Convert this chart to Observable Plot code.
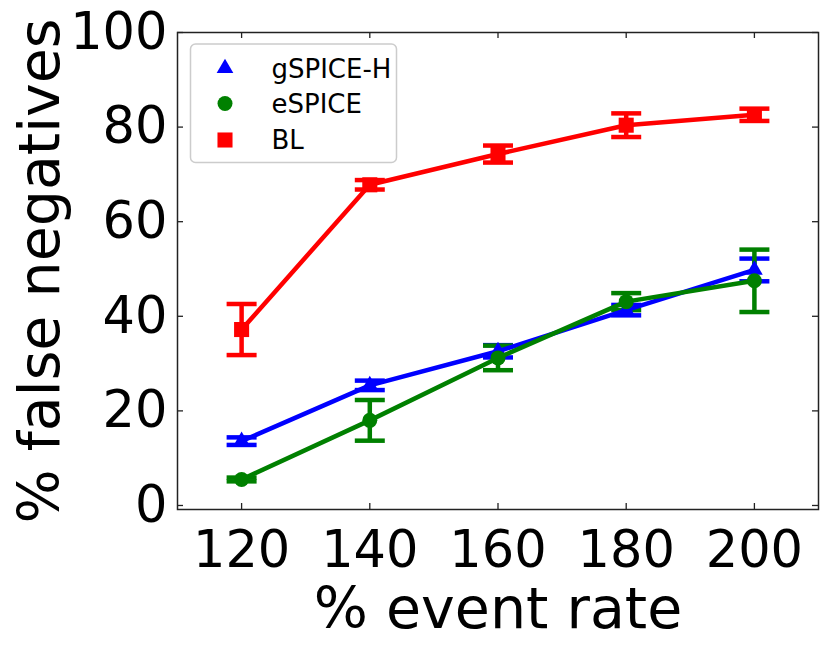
<!DOCTYPE html>
<html><head><meta charset="utf-8">
<script src="https://cdn.jsdelivr.net/npm/d3@7"></script>
<script src="https://cdn.jsdelivr.net/npm/@observablehq/plot@0.6"></script>
<style>
body{margin:0;background:#fff;font-family:"DejaVu Sans",sans-serif}
#chart{position:relative;width:831px;height:652px}
</style>
</head><body><div id="chart"></div>
<script>
// ---- data ----
const rates = [120, 140, 160, 180, 200];
const seriesNames = ["gSPICE-H", "eSPICE", "BL"];
const gspiceH = [13.6, 25.4, 32.6, 41.3, 49.8];
const gspiceHErr = [0.8, 1.0, 1.3, 1.1, 2.4];
const espice = [5.5, 18.0, 31.2, 43.1, 47.5];
const espiceErr = [0.4, 4.3, 2.6, 1.8, 6.6];
const bl = [37.2, 67.8, 74.3, 80.4, 82.6];
const blErr = [5.4, 1.0, 1.8, 2.5, 1.3];
const xTicks = [120, 140, 160, 180, 200];
const yTicks = [0, 20, 40, 60, 80, 100];
const xLabel = "% event rate";
const yLabel = "% false negatives";

// ---- styles ----
const colors = ["#0000ff", "#008000", "#ff0000"];
const symbols = ["triangle", "circle", "square"];
const symR = [6.2, 7.5, 8.5];
const lw = 4.5;

const values = [gspiceH, espice, bl];
const errs = [gspiceHErr, espiceErr, blErr];
const rows = [];
seriesNames.forEach((s, si) => rates.forEach((r, i) => rows.push({
  series: s, si, rate: r, value: values[si][i], lo: values[si][i] - errs[si][i], hi: values[si][i] + errs[si][i]
})));

const capSymbol = {draw(ctx, size) { const h = Math.sqrt(size / Math.PI); ctx.moveTo(-h, 0); ctx.lineTo(h, 0); }};

const W = 831, H = 652, mL = 177, mR = 13, mT = 32, mB = 143;
const pw = W - mL - mR, ph = H - mT - mB;
const tickCol = "#222";
const font = "DejaVu Sans";

const marks = [];
// error bars (drawn first, below data lines as in matplotlib)
seriesNames.forEach((s, si) => {
  const d = rows.filter(r => r.si === si);
  marks.push(Plot.ruleX(d, {x: "rate", y1: "lo", y2: "hi", stroke: colors[si], strokeWidth: lw}));
  marks.push(Plot.dot(d, {x: "rate", y: "lo", symbol: capSymbol, r: 15, stroke: colors[si], strokeWidth: lw, fill: "none"}));
  marks.push(Plot.dot(d, {x: "rate", y: "hi", symbol: capSymbol, r: 15, stroke: colors[si], strokeWidth: lw, fill: "none"}));
});
seriesNames.forEach((s, si) => {
  const d = rows.filter(r => r.si === si);
  marks.push(Plot.line(d, {x: "rate", y: "value", stroke: colors[si], strokeWidth: lw}));
  marks.push(Plot.dot(d, {x: "rate", y: "value", symbol: symbols[si], r: symR[si], fill: colors[si], stroke: "none"}));
});
// frame and inward ticks on all sides
marks.push(Plot.frame({stroke: tickCol, strokeWidth: 1.5}));
marks.push(Plot.tickX(xTicks, {x: d => d, insetTop: ph - 6, stroke: tickCol, strokeWidth: 1.3}));
marks.push(Plot.tickX(xTicks, {x: d => d, insetBottom: ph - 6, stroke: tickCol, strokeWidth: 1.3}));
marks.push(Plot.tickY(yTicks, {y: d => d, insetRight: pw - 6, stroke: tickCol, strokeWidth: 1.3}));
marks.push(Plot.tickY(yTicks, {y: d => d, insetLeft: pw - 6, stroke: tickCol, strokeWidth: 1.3}));
// tick labels
marks.push(Plot.axisX(xTicks, {tickSize: 0, tickPadding: 21, fontSize: 51, fill: "#000", label: null}));
marks.push(Plot.axisY(yTicks, {tickSize: 0, tickPadding: 10, fontSize: 51, fill: "#000", label: null}));
// axis titles
marks.push(Plot.text([xLabel], {frameAnchor: "bottom", text: d => d, textAnchor: "middle", lineAnchor: "bottom", dy: 118, fontSize: 57, fill: "#000"}));
marks.push(Plot.text([yLabel], {frameAnchor: "left", text: d => d, textAnchor: "middle", rotate: -90, lineAnchor: "bottom", dx: -119, fontSize: 57, fill: "#000"}));

const plot = Plot.plot({
  width: W, height: H,
  marginLeft: mL, marginRight: mR, marginTop: mT, marginBottom: mB,
  style: {fontFamily: font, background: "#fff", overflow: "visible"},
  x: {domain: [110, 210], axis: null},
  y: {domain: [-0.85, 100], axis: null},
  marks
});

// legend (inside the axes, upper left)
const svg = d3.select(plot);
const lg = svg.append("g").attr("font-family", font).attr("text-anchor", "start");
lg.append("rect").attr("x", 190.5).attr("y", 44).attr("width", 206).attr("height", 118.5)
  .attr("rx", 5).attr("fill", "#fff").attr("fill-opacity", 0.8).attr("stroke", "#cccccc").attr("stroke-width", 1.5);
const legendRowsY = [68.3, 103.5, 140];
seriesNames.forEach((s, si) => {
  const sym = d3.symbol(d3["symbol" + symbols[si][0].toUpperCase() + symbols[si].slice(1)], Math.PI * symR[si] * symR[si]);
  lg.append("path").attr("d", sym()).attr("transform", `translate(225,${legendRowsY[si]})`).attr("fill", colors[si]);
  lg.append("text").attr("x", 271.5).attr("y", legendRowsY[si]).attr("dy", "0.36em")
    .attr("font-size", 26).attr("fill", "#000").text(s);
});

document.getElementById("chart").appendChild(plot);
</script>
</body></html>
